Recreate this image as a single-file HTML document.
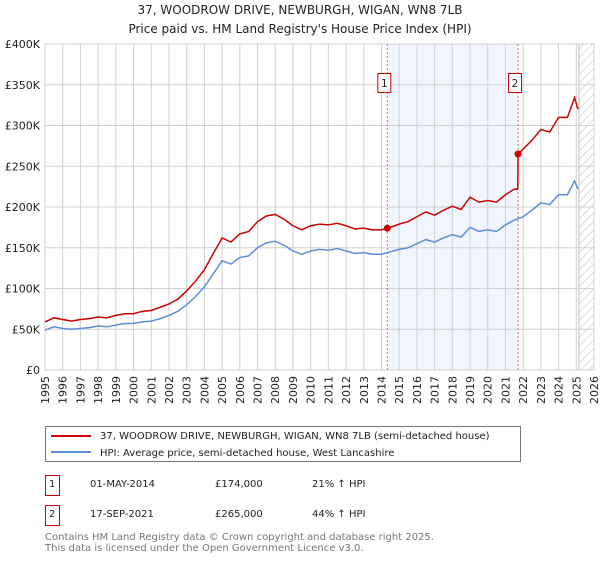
<!DOCTYPE html>
<html><head><meta charset="utf-8"><style>
body{margin:0;background:#fff;font-family:"DejaVu Sans","Liberation Sans",sans-serif;}
svg text{font-family:"DejaVu Sans","Liberation Sans",sans-serif;}
</style></head><body>
<svg id="c" width="600" height="560" xmlns="http://www.w3.org/2000/svg">
<defs><pattern id="hatch" width="6" height="6" patternUnits="userSpaceOnUse" patternTransform="rotate(45)"><line x1="0" y1="0" x2="0" y2="6" stroke="#bbb" stroke-width="1"/></pattern></defs>
<text x="300" y="14" text-anchor="middle" font-size="12" fill="#222">37, WOODROW DRIVE, NEWBURGH, WIGAN, WN8 7LB</text>
<text x="300" y="33" text-anchor="middle" font-size="12" fill="#222">Price paid vs. HM Land Registry's House Price Index (HPI)</text>
<g id="plot"></g>
<g>
<rect x="45.5" y="426.5" width="475" height="35" fill="#fff" stroke="#777"/>
<line x1="51" y1="436" x2="91" y2="436" stroke="#cc0000" stroke-width="2"/>
<text x="100" y="439" font-size="10" fill="#222">37, WOODROW DRIVE, NEWBURGH, WIGAN, WN8 7LB (semi-detached house)</text>
<line x1="51" y1="452" x2="91" y2="452" stroke="#5b8fd6" stroke-width="2"/>
<text x="100" y="456" font-size="10" fill="#222">HPI: Average price, semi-detached house, West Lancashire</text>
</g>
<g font-size="10" fill="#222">
<rect x="45.5" y="475.5" width="14" height="20" fill="#fff" stroke="#cc0000"/>
<text x="49" y="487">1</text><text x="90" y="487">01-MAY-2014</text><text x="215" y="487">£174,000</text><text x="312" y="487">21% ↑ HPI</text>
<rect x="45.5" y="505.5" width="14" height="20" fill="#fff" stroke="#cc0000"/>
<text x="49" y="517">2</text><text x="90" y="517">17-SEP-2021</text><text x="215" y="517">£265,000</text><text x="312" y="517">44% ↑ HPI</text>
</g>
<text x="45" y="540" font-size="10" fill="#777">Contains HM Land Registry data © Crown copyright and database right 2025.</text>
<text x="45" y="551" font-size="10" fill="#777">This data is licensed under the Open Government Licence v3.0.</text>
</svg>
<script>
const hpiYears=[1995,1995.5,1996,1996.5,1997,1997.5,1998,1998.5,1999,1999.5,2000,2000.5,2001,2001.5,2002,2002.5,2003,2003.5,2004,2004.5,2005,2005.5,2006,2006.5,2007,2007.5,2008,2008.5,2009,2009.5,2010,2010.5,2011,2011.5,2012,2012.5,2013,2013.5,2014,2014.5,2015,2015.5,2016,2016.5,2017,2017.5,2018,2018.5,2019,2019.5,2020,2020.5,2021,2021.5,2022,2022.5,2023,2023.5,2024,2024.5,2024.9,2025.1];
const hpiValues=[49,53,51,50,51,52,54,53,55,57,57,59,60,63,67,72,80,90,102,118,134,130,138,140,150,156,158,153,146,142,146,148,147,149,146,143,144,142,142,145,148,150,155,160,157,162,166,163,175,170,172,170,178,184,188,196,205,203,215,215,232,222];
const redYears=[1995,1995.5,1996,1996.5,1997,1997.5,1998,1998.5,1999,1999.5,2000,2000.5,2001,2001.5,2002,2002.5,2003,2003.5,2004,2004.5,2005,2005.5,2006,2006.5,2007,2007.5,2008,2008.5,2009,2009.5,2010,2010.5,2011,2011.5,2012,2012.5,2013,2013.5,2014,2014.33,2014.5,2015,2015.5,2016,2016.5,2017,2017.5,2018,2018.5,2019,2019.5,2020,2020.5,2021,2021.5,2021.7,2021.71,2022,2022.5,2023,2023.5,2024,2024.5,2024.9,2025.1];
const redValues=[59,64,62,60,62,63,65,64,67,69,69,72,73,77,81,87,97,109,123,143,162,157,167,170,182,189,191,185,177,172,177,179,178,180,177,173,174,172,172,174,175,179,182,188,194,190,196,201,197,212,206,208,206,215,222,222,265,271,282,295,292,310,310,334,320];
const saleYears=[2014.33,2021.71];
const saleValues=[174,265];
const saleLabels=["1","2"];
const yTicks=[0,50,100,150,200,250,300,350,400];
const yTickLabels=["£0","£50K","£100K","£150K","£200K","£250K","£300K","£350K","£400K"];
const xTicks=[1995,1996,1997,1998,1999,2000,2001,2002,2003,2004,2005,2006,2007,2008,2009,2010,2011,2012,2013,2014,2015,2016,2017,2018,2019,2020,2021,2022,2023,2024,2025,2026];
const X0=45,X1=594,Y0=370,Y1=44;
const xs=y=>X0+(y-1995)/(2026-1995)*(X1-X0);
const ys=v=>Y0-v/400*(Y0-Y1);
const NS="http://www.w3.org/2000/svg";
const g=document.getElementById('plot');
function mk(t,a){const e=document.createElementNS(NS,t);for(const k in a)e.setAttribute(k,a[k]);g.appendChild(e);return e;}
let e;
e=mk('rect',{x:X0,y:Y1,width:X1-X0,height:Y0-Y1,fill:'#fff'});


e=mk('rect',{x:xs(saleYears[0]),y:Y1,width:xs(saleYears[1])-xs(saleYears[0]),height:Y0-Y1,fill:'#eef3fc',opacity:0.8});


e=mk('rect',{x:xs(2025.15),y:Y1,width:X1-xs(2025.15),height:Y0-Y1,fill:'url(#hatch)',stroke:'#bbb'});


xTicks.forEach(t=>{
 e=mk('line',{x1:xs(t),x2:xs(t),y1:Y1,y2:Y0,stroke:'#d0d0d0','stroke-width':1});
 
 
 const tx=mk('text',{x:0,y:0,'font-size':11,fill:'#222','text-anchor':'end',transform:`translate(${xs(t)+4},${Y0+6}) rotate(-90)`});
 tx.textContent=t;
 
 
});
yTicks.forEach((t,i)=>{
 e=mk('line',{x1:X0,x2:X1,y1:ys(t),y2:ys(t),stroke:'#d0d0d0','stroke-width':1});
 
 
 const tx=mk('text',{x:X0-5,y:ys(t)+4,'font-size':11,fill:'#222','text-anchor':'end'});
 tx.textContent=yTickLabels[i];
 
 
});
saleYears.forEach((s,i)=>{
 e=mk('line',{x1:xs(s),x2:xs(s),y1:Y1,y2:Y0,stroke:'#e06060','stroke-dasharray':'2,2','stroke-width':1});
 
 
 e=mk('rect',{x:xs(s)-9.5,y:73.5,width:13,height:19,fill:'#fff',stroke:'#cc0000'});
 
 
 const tx=mk('text',{x:xs(s)-3,y:87,'font-size':10.5,fill:'#222','text-anchor':'middle'});
 tx.textContent=saleLabels[i];
 
 
});
e=mk('polyline',{points:hpiYears.map((y,i)=>xs(y)+','+ys(hpiValues[i])).join(' '),fill:'none',stroke:'#5b8fd6','stroke-width':1.5});


e=mk('polyline',{points:redYears.map((y,i)=>xs(y)+','+ys(redValues[i])).join(' '),fill:'none',stroke:'#cc0000','stroke-width':1.5});


saleYears.forEach((s,i)=>{
 e=mk('circle',{cx:xs(s),cy:ys(saleValues[i]),r:3.5,fill:'#cc0000'});
 
 
});
</script>
</body></html>
